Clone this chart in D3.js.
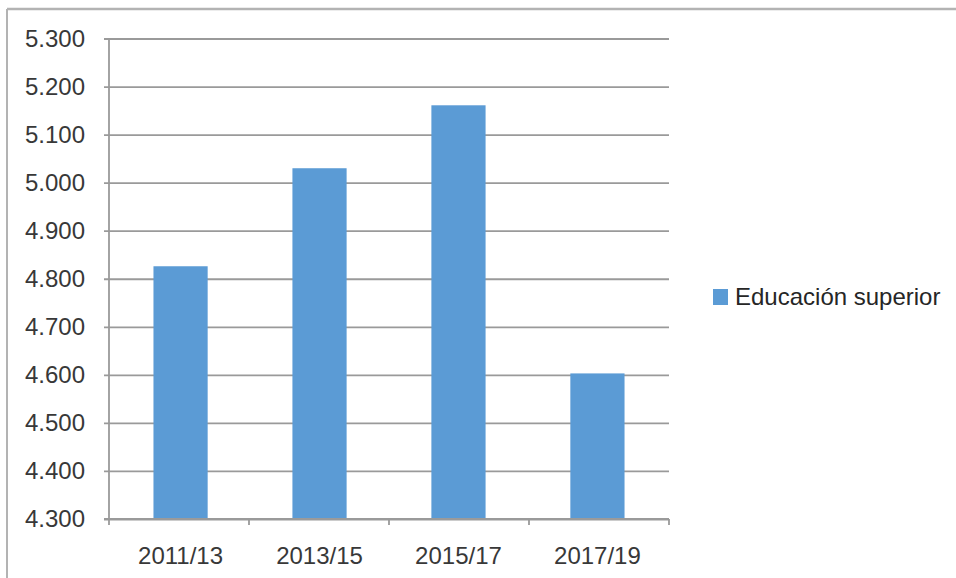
<!DOCTYPE html>
<html>
<head>
<meta charset="utf-8">
<script src="https://cdn.jsdelivr.net/npm/d3@7"></script>
<style>
  html, body { margin: 0; padding: 0; background: #fff; }
  svg { display: block; }
  text { font-family: "Liberation Sans", Arial, sans-serif; }
</style>
</head>
<body>
<svg id="chart" width="956" height="578"></svg>
<script>
// Periods and values of the single series
const periods = ["2011/13", "2013/15", "2015/17", "2017/19"];
const values = [4826, 5030, 5161, 4603];
const seriesName = "Educación superior";
const yTicks = [4300, 4400, 4500, 4600, 4700, 4800, 4900, 5000, 5100, 5200, 5300];

const W = 956, H = 578;
const plot = { left: 109, right: 669, top: 38.5, bottom: 519 };
const barColor = "#5b9bd5";
const gridColor = "#9a9a9a";
const labelColor = "#383838";

const svg = d3.select("#chart");

// Outer frame: top and left edges
svg.append("line").attr("x1", 7).attr("x2", W).attr("y1", 9).attr("y2", 9)
  .attr("stroke", "#b3b3b3").attr("stroke-width", 2.5);
svg.append("line").attr("x1", 7).attr("x2", 7).attr("y1", 9).attr("y2", H)
  .attr("stroke", "#b3b3b3").attr("stroke-width", 2);

const x = d3.scaleBand().domain(periods).range([plot.left, plot.right])
  .paddingInner(0.61).paddingOuter(0.32);
const y = d3.scaleLinear().domain([4300, 5300]).range([plot.bottom, plot.top]);

const fmtTick = v => { const s = String(v); return s[0] + "." + s.slice(1); };

// Horizontal gridlines with left tick marks
const yAxis = d3.axisLeft(y).tickValues(yTicks).tickFormat(fmtTick)
  .tickSize(-(plot.right - plot.left)).tickPadding(24);
const gy = svg.append("g").attr("transform", `translate(${plot.left},0)`).call(yAxis);
gy.select(".domain").remove();
gy.selectAll(".tick line").attr("x1", -5).attr("stroke", gridColor).attr("stroke-width", 1.8);
gy.selectAll(".tick text").attr("fill", labelColor).attr("font-size", 24);

// Vertical axis line
svg.append("line").attr("x1", plot.left).attr("x2", plot.left)
  .attr("y1", plot.top).attr("y2", plot.bottom)
  .attr("stroke", gridColor).attr("stroke-width", 1.8);

// Bars
svg.append("g").selectAll("rect").data(periods).join("rect")
  .attr("x", d => x(d))
  .attr("width", x.bandwidth())
  .attr("y", (d, i) => y(values[i]))
  .attr("height", (d, i) => y(4300) - y(values[i]))
  .attr("fill", barColor);

// Category axis: baseline, boundary ticks and labels
const gx = svg.append("g").attr("transform", `translate(0,${plot.bottom})`);
gx.append("line").attr("x1", plot.left - 5).attr("x2", plot.right)
  .attr("stroke", gridColor).attr("stroke-width", 1.8);
const bounds = d3.range(periods.length + 1).map(i => plot.left + i * (plot.right - plot.left) / periods.length);
gx.selectAll("line.b").data(bounds).join("line").attr("class", "b")
  .attr("x1", d => d).attr("x2", d => d).attr("y1", 0).attr("y2", 6)
  .attr("stroke", gridColor).attr("stroke-width", 1.8);
gx.selectAll("text").data(periods).join("text")
  .attr("x", d => x(d) + x.bandwidth() / 2)
  .attr("y", 45)
  .attr("text-anchor", "middle")
  .attr("fill", labelColor)
  .attr("font-size", 24)
  .text(d => d);

// Legend
const lg = svg.append("g").attr("transform", "translate(713,289)");
lg.append("rect").attr("width", 15).attr("height", 16).attr("fill", barColor);
lg.append("text").attr("x", 22).attr("y", 16)
  .attr("fill", "#262626").attr("font-size", 24).text(seriesName);
</script>
</body>
</html>
